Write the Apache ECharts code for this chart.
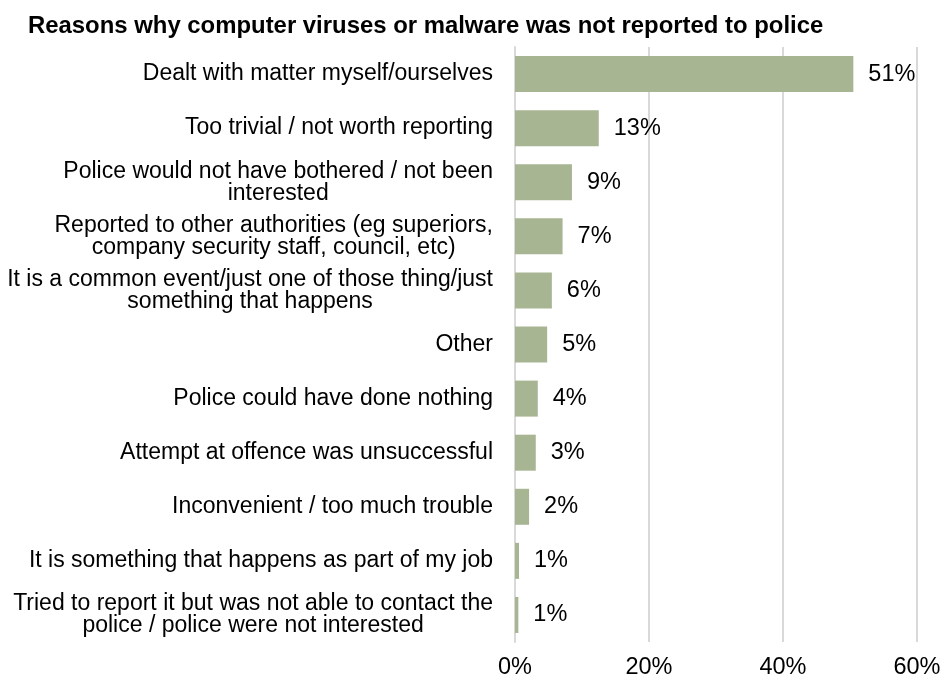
<!DOCTYPE html>
<html>
<head>
<meta charset="utf-8">
<script src="https://cdn.jsdelivr.net/npm/echarts@6/dist/echarts.min.js"></script>
<style>
  html, body { margin: 0; padding: 0; background: #fff; }
  #main { width: 945px; height: 682px; }
</style>
</head>
<body>
<div id="main"></div>
<script>
const categories = [
  'Dealt with matter myself/ourselves',
  'Too trivial / not worth reporting',
  'Police would not have bothered / not been\ninterested',
  'Reported to other authorities (eg superiors,\ncompany security staff, council, etc)',
  'It is a common event/just one of those thing/just\nsomething that happens',
  'Other',
  'Police could have done nothing',
  'Attempt at offence was unsuccessful',
  'Inconvenient / too much trouble',
  'It is something that happens as part of my job',
  'Tried to report it but was not able to contact the\npolice / police were not interested'
]
const values = [50.5, 12.5, 8.5, 7.1, 5.5, 4.8, 3.4, 3.1, 2.1, 0.6, 0.5]
const valueLabels = ['51%', '13%', '9%', '7%', '6%', '5%', '4%', '3%', '2%', '1%', '1%']
const tickLabels = ['0%', '20%', '40%', '60%']

const chart = echarts.init(document.getElementById('main'))
const font = 'Liberation Sans, Arial, sans-serif'

const option = {
  animation: false,
  title: {
    text: 'Reasons why computer viruses or malware was not reported to police',
    left: 23,
    top: 9,
    textStyle: { fontFamily: font, fontSize: 23.9, fontWeight: 'bold', color: '#000' }
  },
  grid: { left: 515, right: 28, top: 47, bottom: 40 },
  xAxis: {
    type: 'value',
    min: 0,
    max: 60,
    interval: 20,
    axisLine: { show: false },
    axisTick: { show: false },
    splitLine: { lineStyle: { color: '#d9d9d9', width: 2 } },
    axisLabel: {
      margin: 14,
      fontFamily: font,
      fontSize: 23.5,
      color: '#000',
      formatter: function (v) { return tickLabels[v / 20] }
    }
  },
  yAxis: {
    type: 'category',
    inverse: true,
    data: categories,
    axisLine: { show: true, lineStyle: { color: '#d9d9d9', width: 2 } },
    axisTick: { show: false },
    axisLabel: {
      margin: 22,
      fontFamily: font,
      fontSize: 23,
      color: '#000',
      lineHeight: 22,
      // centre each line inside the label block, block is right aligned
      formatter: function (v) {
        return v.split('\n').map(function (s) { return '{c|' + s + '}' }).join('\n')
      },
      rich: {
        c: { align: 'center', fontFamily: font, fontSize: 23, color: '#000', lineHeight: 22 }
      }
    }
  },
  series: [{
    type: 'bar',
    data: values,
    barWidth: 36,
    itemStyle: { color: '#a7b593' },
    label: {
      show: true,
      position: 'right',
      distance: 15,
      fontFamily: font,
      fontSize: 23.5,
      color: '#000',
      formatter: function (p) { return valueLabels[p.dataIndex] }
    }
  }]
}

chart.setOption(option)
</script>
</body>
</html>
